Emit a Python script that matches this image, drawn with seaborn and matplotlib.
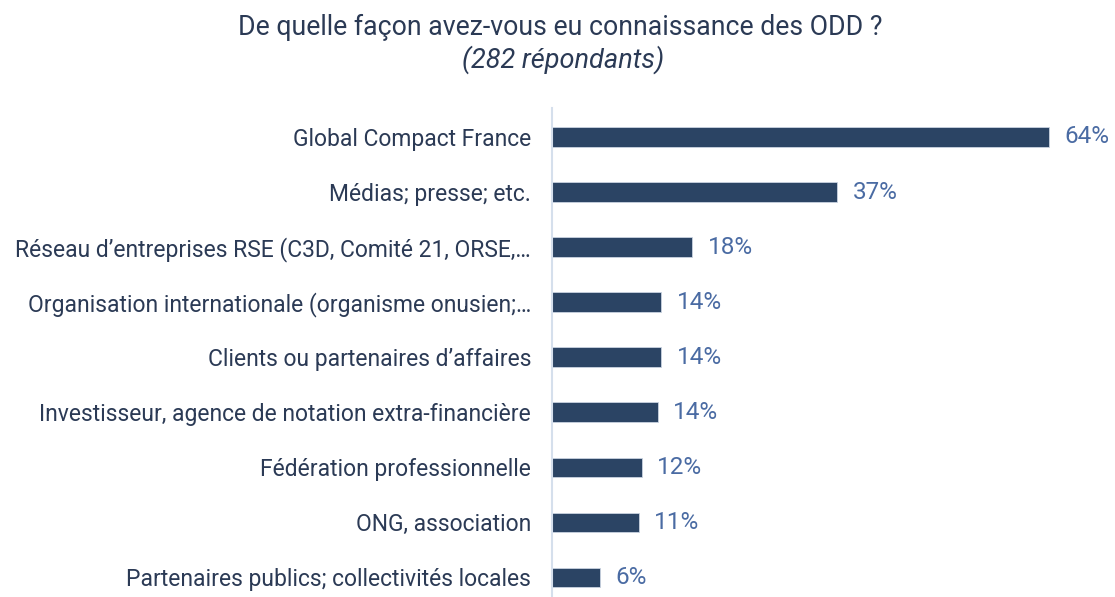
import matplotlib
matplotlib.use("Agg")
import matplotlib.pyplot as plt
import seaborn as sns
import pandas as pd

categories = [
    "Global Compact France",
    "Médias; presse; etc.",
    "Réseau d’entreprises RSE (C3D, Comité 21, ORSE,…",
    "Organisation internationale (organisme onusien;…",
    "Clients ou partenaires d’affaires",
    "Investisseur, agence de notation extra-financière",
    "Fédération professionnelle",
    "ONG, association",
    "Partenaires publics; collectivités locales",
]
values = [64.2, 36.9, 18.1, 14.1, 14.1, 13.7, 11.6, 11.2, 6.2]
value_labels = ["64%", "37%", "18%", "14%", "14%", "14%", "12%", "11%", "6%"]

title = "De quelle façon avez-vous eu connaissance des ODD ?"
subtitle = "(282 répondants)"

sns.set_theme(style="white")
plt.rcParams['font.family'] = ['Roboto', 'DejaVu Sans']

W, H = 1115, 597
fig = plt.figure(figsize=(W / 100, H / 100), dpi=100)
ax = fig.add_axes([552 / W, 0, (1098 - 552) / W, 489 / H])

df = pd.DataFrame({"cat": categories, "val": values})
sns.barplot(data=df, y="cat", x="val", orient="h", color="#2B4464",
            saturation=1, width=0.35, edgecolor="#C9D3E0", linewidth=0.6, ax=ax)

ax.set_xlim(0, 70.6)
ax.set_ylim(8.36, -0.527)
ax.set_xlabel("")
ax.set_ylabel("")
ax.set_xticks([])
for s in ["top", "right", "bottom"]:
    ax.spines[s].set_visible(False)
ax.spines["left"].set_color("#D5DFEC")
ax.spines["left"].set_linewidth(1.5)
ax.tick_params(axis="y", length=0, pad=15, labelsize=16.5, labelcolor="#2B3A55")

for i, (v, lab) in enumerate(zip(values, value_labels)):
    ax.text(v + 2.0, i, lab, va="center", ha="left", fontsize=17.5, color="#4A6BA3")

fig.text(560 / W, 1 - 27 / H, title, ha="center", va="center", fontsize=19.2, color="#2B3A55")
fig.text(563 / W, 1 - 60 / H, subtitle, ha="center", va="center", fontsize=19.5,
         color="#2B3A55", style="italic")

fig.savefig("out.png", dpi=100)
